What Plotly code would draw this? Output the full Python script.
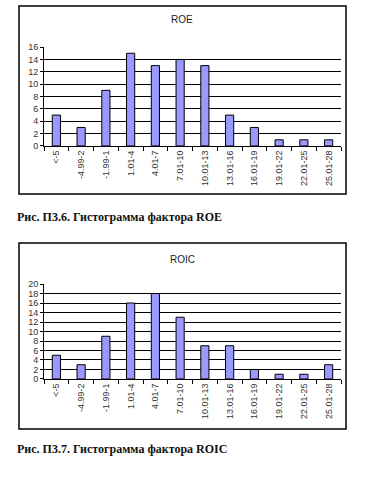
import plotly.graph_objects as go

categories = ["<-5", "-4.99-2", "-1.99-1", "1.01-4", "4.01-7", "7.01-10",
              "10.01-13", "13.01-16", "16.01-19", "19.01-22", "22.01-25", "25.01-28"]
roe_counts = [5, 3, 9, 15, 13, 14, 13, 5, 3, 1, 1, 1]
roic_counts = [5, 3, 9, 16, 18, 13, 7, 7, 2, 1, 1, 3]

W, H = 365, 477
def px(x): return x / W
def py(y): return 1 - y / H

bar_style = dict(marker=dict(color="#9999FF", line=dict(color="#000000", width=1)),
                 width=0.33, showlegend=False, hoverinfo="skip")

fig = go.Figure()
fig.add_trace(go.Bar(x=categories, y=roe_counts, xaxis="x", yaxis="y", **bar_style))
fig.add_trace(go.Bar(x=categories, y=roic_counts, xaxis="x2", yaxis="y2", **bar_style))

tickfont = dict(family="Liberation Sans, Arial, sans-serif", size=9, color="#333333")
xcommon = dict(type="category", tickangle=-90, tickfont=tickfont, showline=True,
               linecolor="#000000", linewidth=1, ticks="outside", ticklen=4,
               tickcolor="#000000", tickson="boundaries", showgrid=False,
               fixedrange=True)
ycommon = dict(tickfont=tickfont, showline=True, linecolor="#000000", linewidth=1,
               ticks="outside", ticklen=3, tickcolor="#000000", showgrid=True,
               gridcolor="#000000", gridwidth=1, zeroline=False, dtick=2,
               fixedrange=True)

fig.update_layout(
    width=W, height=H, margin=dict(l=0, r=0, t=0, b=0),
    paper_bgcolor="white", plot_bgcolor="white", bargap=0.6,
    xaxis=dict(domain=[px(44), px(341)], anchor="y", **xcommon),
    yaxis=dict(domain=[py(144), py(43)], anchor="x", range=[0, 16], **ycommon),
    xaxis2=dict(domain=[px(44), px(341)], anchor="y2", **xcommon),
    yaxis2=dict(domain=[py(382), py(285)], anchor="x2", range=[0, 20], **ycommon),
)

# chart frames
for (x0, y0, x1, y1) in [(19, 1, 346, 193), (19, 243, 346, 433)]:
    fig.add_shape(type="rect", xref="paper", yref="paper",
                  x0=px(x0), x1=px(x1), y0=py(y1), y1=py(y0),
                  line=dict(color="#000000", width=1.5), fillcolor="rgba(0,0,0,0)")

titlefont = dict(family="Liberation Sans, Arial, sans-serif", size=10, color="#222222")
capfont = dict(family="Liberation Serif, Times New Roman, serif", size=12, color="#111111")
fig.add_annotation(text="ROE", xref="paper", yref="paper", x=px(182), y=py(15),
                   showarrow=False, font=titlefont, xanchor="center", yanchor="middle")
fig.add_annotation(text="ROIC", xref="paper", yref="paper", x=px(182), y=py(260),
                   showarrow=False, font=titlefont, xanchor="center", yanchor="middle")
fig.add_annotation(text="<b>Рис. П3.6. Гистограмма фактора ROE</b>", xref="paper", yref="paper",
                   x=px(15), y=py(217), showarrow=False, font=capfont,
                   xanchor="left", yanchor="middle")
fig.add_annotation(text="<b>Рис. П3.7. Гистограмма фактора ROIC</b>", xref="paper", yref="paper",
                   x=px(15), y=py(453), showarrow=False, font=capfont,
                   xanchor="left", yanchor="middle")

fig.write_html("out.html", config={"displayModeBar": False},
               post_script="document.body.style.margin='0';document.body.style.overflow='hidden';")
